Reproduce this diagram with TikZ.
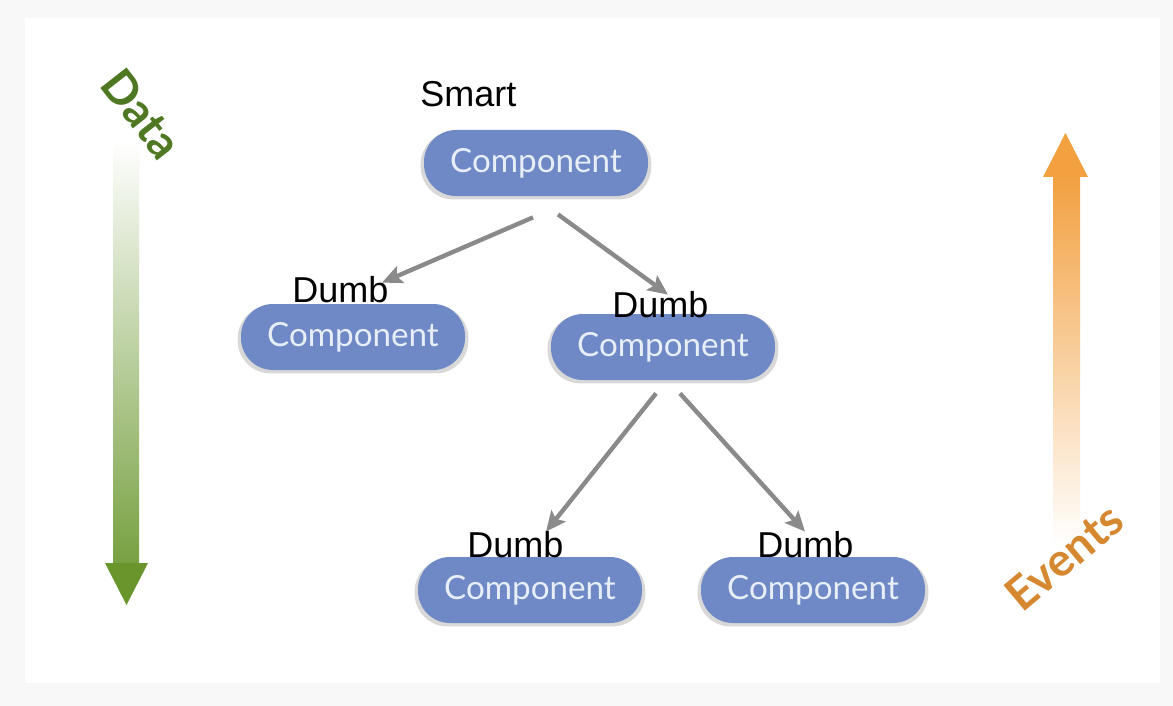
\documentclass[tikz,border=0pt]{standalone}
\usepackage{fontspec}
\setmainfont{Liberation Sans}
\newfontfamily\compfont{Lato}
\usepackage{tikz}
\usetikzlibrary{arrows.meta,positioning,calc,shadows}
\definecolor{compblue} {RGB}{110,137,197}
\definecolor{comptext} {RGB}{232,238,248}
\definecolor{datagreen}{RGB}{104,150,44}
\definecolor{datatext} {RGB}{78,120,34}
\definecolor{evorange} {RGB}{242,160,64}
\definecolor{evtext}   {RGB}{214,136,48}
\definecolor{conngray} {RGB}{138,138,138}
\definecolor{bggray}   {RGB}{248,248,248}
\tikzset{
  comp/.style   ={rounded corners=16pt, fill=compblue, text=comptext,
                  minimum width=112pt, minimum height=33pt, inner sep=0pt,
                  font=\compfont\fontsize{16.6}{18}\selectfont,
                  drop shadow={opacity=0.3, shadow xshift=0pt,
                               shadow yshift=-1.2pt, shadow scale=1.03}},
  lbl/.style    ={font=\fontsize{18}{20}\selectfont, inner sep=0pt},
  conn/.style   ={-{Stealth[length=10pt,width=9pt,inset=2pt]},
                  line width=2.2pt, draw=conngray},
  sidetxt/.style={font=\compfont\bfseries\fontsize{23}{25}\selectfont,
                  inner sep=0pt},
}
\begin{document}
\begin{tikzpicture}[x=0.5pt,y=-0.5pt]
  \useasboundingbox[fill=bggray] (0,0) rectangle (1173,706);
  \fill[white] (25,18) rectangle (1160,683);
  %% data arrow
  \shade[top color=white, bottom color=datagreen!90] (113,140) rectangle (139,565);
  \fill[datagreen] (105,563) -- (148,563) -- (126.5,605) -- cycle;
  \node[sidetxt, rotate=-52, text=datatext] (data) at (142,114) {Data};
  %% events arrow
  \shade[top color=evorange, bottom color=white] (1053,175) rectangle (1080,545);
  \fill[evorange] (1043,177) -- (1088,177) -- (1065.5,133) -- cycle;
  \node[sidetxt, rotate=40, text=evtext] (events) at (1064,557) {Events};
  %% components
  \node[comp] (top)  at (536,163) {Component};
  \node[comp] (midl) at (353,337) {Component};
  \node[comp] (midr) at (663,347) {Component};
  \node[comp] (botl) at (530,590) {Component};
  \node[comp] (botr) at (813,590) {Component};
  %% connectors
  \draw[conn] ($(top.south)+(-3,21)$)  -- ($(midl.north)+(29,-21)$);
  \draw[conn] ($(top.south)+(22,18)$)  -- ($(midr.north)+(5,-19)$);
  \draw[conn] ($(midr.south)+(-7,13)$) -- ($(botl.north)+(16,-25)$);
  \draw[conn] ($(midr.south)+(17,13)$) -- ($(botr.north)+(-8,-25)$);
  %% labels
  \node[lbl, anchor=base west] (smart) at (420,107) {Smart};
  \node[lbl, anchor=base west] (dml)   at (292,302) {Dumb};
  \node[lbl, anchor=base west] (dmr)   at (612,317) {Dumb};
  \node[lbl, anchor=base west] (dbl)   at (467,557) {Dumb};
  \node[lbl, anchor=base west] (dbr)   at (757,557) {Dumb};
\end{tikzpicture}
\end{document}
